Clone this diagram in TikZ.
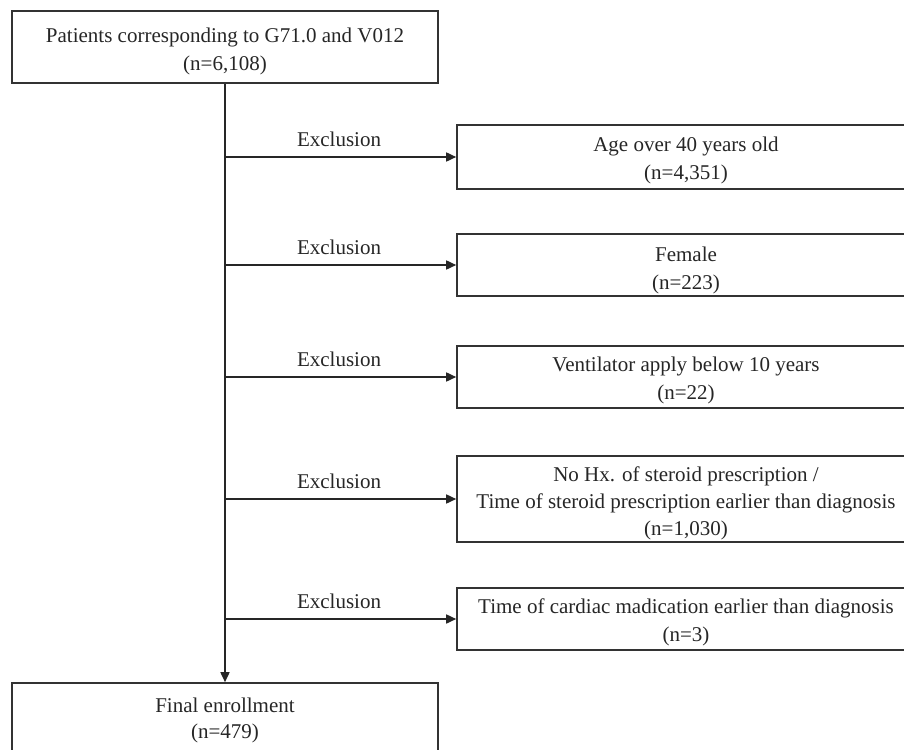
\documentclass[tikz,border=0pt]{standalone}
\usepackage{fontspec}
\setmainfont{Liberation Serif}
\usetikzlibrary{arrows.meta}
\begin{document}
\begin{tikzpicture}[x=1pt,y=-1pt,
  box/.style={draw=black!80,line width=1.6pt,inner sep=0pt},
  txt/.style={align=center,inner sep=0pt,
    font=\fontsize{21}{28}\selectfont,text=black!85},
  lbl/.style={font=\fontsize{21}{25}\selectfont,text=black!85,inner sep=0pt},
  arr/.style={draw=black!85,line width=1.6pt,-{Triangle[length=10pt,width=9pt]}}]
\clip (0,0) rectangle (904,749);
\fill[white] (0,0) rectangle (904,749);
\node[box,minimum width=426pt,minimum height=72pt] (top) at (225,47) {};
\node[txt] (ttop) at (225,51.5) {Patients corresponding to G71.0 and V012\\(n=6,108)};
\node[box,minimum width=458pt,minimum height=64pt] (b1) at (686,157) {};
\node[txt] (t1) at (686,160) {Age over 40 years old\\(n=4,351)};
\node[box,minimum width=458pt,minimum height=62pt] (b2) at (686,265) {};
\node[txt] (t2) at (686,270) {Female\\(n=223)};
\node[box,minimum width=458pt,minimum height=62pt] (b3) at (686,377) {};
\node[txt] (t3) at (686,380.5) {Ventilator apply below 10 years\\(n=22)};
\node[box,minimum width=458pt,minimum height=86pt] (b4) at (686,499) {};
\node[txt,font=\fontsize{21}{27}\selectfont] (t4) at (686,503)
  {No Hx. of steroid prescription /\\Time of steroid prescription earlier than diagnosis\\(n=1,030)};
\node[box,minimum width=458pt,minimum height=62pt] (b5) at (686,619) {};
\node[txt] (t5) at (686,622.5) {Time of cardiac madication earlier than diagnosis\\(n=3)};
\node[box,minimum width=426pt,minimum height=80pt] (fin) at (225,723) {};
\node[txt,font=\fontsize{21}{26}\selectfont] (tfin) at (225,720) {Final enrollment\\(n=479)};
\draw[arr] (top.south) -- (fin.north);
\foreach \i/\y in {1/157,2/265,3/377,4/499,5/619}{
  \coordinate (j\i) at (225,\y);
  \draw[arr] (j\i) -- (b\i.west);
  \node[lbl] (e\i) at (339,\y-18) {Exclusion};
}
\end{tikzpicture}
\end{document}
